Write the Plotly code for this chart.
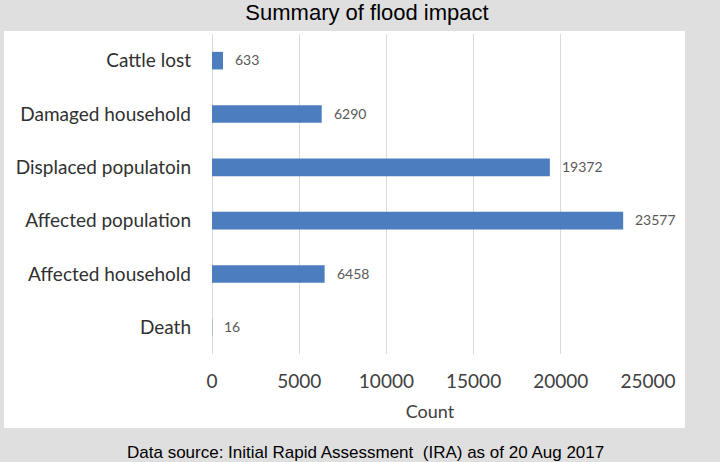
import plotly.graph_objects as go

categories = ["Cattle lost", "Damaged household", "Displaced populatoin",
              "Affected population", "Affected household", "Death"]
counts = [633, 6290, 19372, 23577, 6458, 16]
x_ticks = [0, 5000, 10000, 15000, 20000, 25000]

W, H = 720, 462
L, R, T, B = 212, 648, 34, 354  # plot area in pixels
pw, ph = R - L, B - T

def px_x(x):
    return (x - L) / pw

def px_y(y):
    return (B - y) / ph

fig = go.Figure()
fig.add_trace(go.Bar(
    y=categories, x=counts, orientation="h",
    marker=dict(color="#4C7DBF", line=dict(width=0)),
    width=0.33, hoverinfo="skip",
))

for c, v in zip(categories, counts):
    fig.add_annotation(x=v, y=c, xref="x", yref="y", text=str(v),
                       showarrow=False, xanchor="left", xshift=10, yshift=1,
                       font=dict(family="Lato", size=14, color="#595959"))

# white panel
fig.add_shape(type="rect", xref="paper", yref="paper", layer="below",
              x0=px_x(4), x1=px_x(685), y0=px_y(428), y1=px_y(31),
              fillcolor="white", line=dict(width=0))

fig.add_annotation(xref="paper", yref="paper", x=px_x(365), y=px_y(452),
                   text="Data source: Initial Rapid Assessment  (IRA) as of 20 Aug 2017",
                   showarrow=False, xanchor="center", yanchor="middle",
                   font=dict(family="Liberation Sans", size=17, color="#000000"))

fig.update_layout(
    width=W, height=H,
    margin=dict(l=L, r=W - R, t=T, b=H - B, pad=0),
    paper_bgcolor="#DFDFDF", plot_bgcolor="white",
    showlegend=False,
    title=dict(text="Summary of flood impact", x=367 / W, xanchor="center",
               y=1 - 12 / H, yanchor="middle", yref="container",
               font=dict(family="Liberation Sans", size=22, color="#000000")),
    xaxis=dict(range=[0, 25000], tickvals=x_ticks, ticktext=[str(t) for t in x_ticks],
               showgrid=True, gridcolor="#D9D9D9", gridwidth=1,
               zeroline=True, zerolinecolor="#D9D9D9", zerolinewidth=1,
               showline=False, ticks="", ticklabelstandoff=14,
               tickfont=dict(family="Lato", size=19, color="#404040"),
               title=dict(text="Count", standoff=14,
                          font=dict(family="Lato", size=18, color="#404040"))),
    yaxis=dict(autorange="reversed", showgrid=False, zeroline=False, showline=False,
               ticks="", ticklabelstandoff=20,
               tickfont=dict(family="Lato", size=19, color="#303030")),
)

fig.write_html("out.html", config={"displayModeBar": False, "staticPlot": True},
               post_script="document.body.style.margin='0';document.body.style.padding='0';")
